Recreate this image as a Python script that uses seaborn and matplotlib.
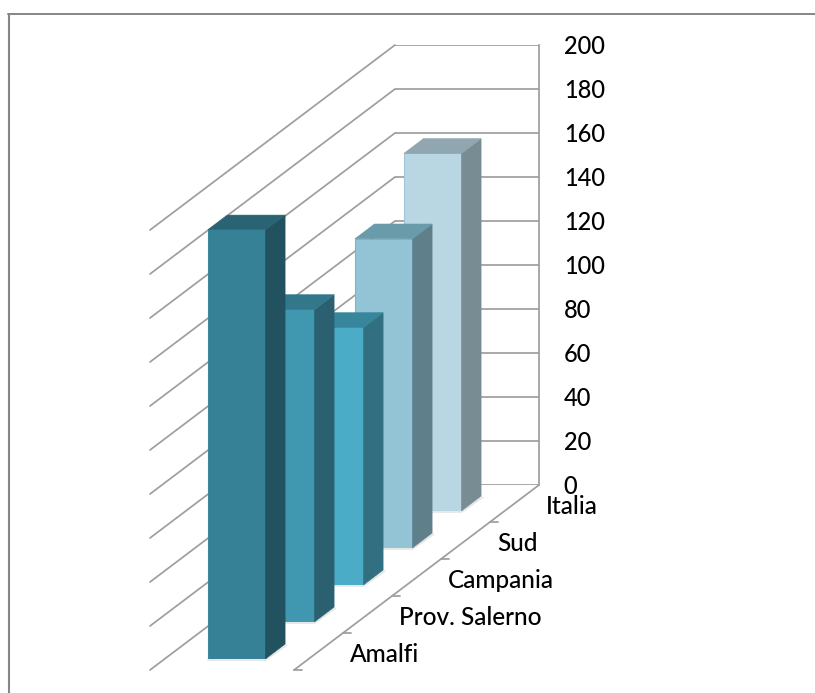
import matplotlib
matplotlib.use("Agg")
import matplotlib.pyplot as plt
from matplotlib.patches import Polygon
import pandas as pd
import seaborn as sns

# Series, listed from the front row to the back row
categories = ["Amalfi", "Prov. Salerno", "Campania", "Sud", "Italia"]
values = [195, 142, 117, 140.5, 162.5]
front_colors = ["#378196", "#3f98b0", "#4bacc8", "#93c4d6", "#b9d6e3"]
side_colors = ["#22525f", "#2a6070", "#326f80", "#5f7f8a", "#788c93"]
top_colors = ["#2a6372", "#33788a", "#38869b", "#6a9bab", "#90a6b0"]
edge_colors = ["#3b8a9f", "#46a0b8", "#55b3ce", "#7fb3c6", "#a3c4d2"]
value_ticks = list(range(0, 201, 20))

# Oblique projection, in figure pixels
FIG_W, FIG_H = 815, 693
WALL_LEFT, WALL_RIGHT = 395, 539
WALL_TOP, WALL_BOTTOM = 45, 485
DEPTH_X, DEPTH_Y = 49, 37  # shift per category row
BAR_WIDTH = 0.4
BAR_GAP = 0.3
LINE = "#9e9e9e"
LINE_W = 1.25
FONT = "Lato"
TICK_SIZE = 17
LABEL_SIZE = 17.6

sns.set_theme(style="white")
plt.rcParams["font.family"] = [FONT, "DejaVu Sans"]
plt.rcParams["font.weight"] = "medium"

fig = plt.figure(figsize=(FIG_W / 100, FIG_H / 100), dpi=100, facecolor="white")


def pixel_box(left, top, width, height):
    return [left / FIG_W, 1 - (top + height) / FIG_H, width / FIG_W, height / FIG_H]


# Full-figure layer for the floor, the side wall and the frame
canvas = fig.add_axes([0, 0, 1, 1], zorder=0)
canvas.set_xlim(0, FIG_W)
canvas.set_ylim(FIG_H, 0)
canvas.axis("off")
canvas.plot([8.5, 8.5], [FIG_H, 14], color="#868686", lw=1.5)
canvas.plot([8, FIG_W], [14, 14], color="#868686", lw=1.4)

n_rows = len(categories)
span_x, span_y = DEPTH_X * n_rows, DEPTH_Y * n_rows
px_per_unit = (WALL_BOTTOM - WALL_TOP) / max(value_ticks)

# Side wall gridlines running from the back wall to the front
for v in value_ticks:
    y = WALL_BOTTOM - v * px_per_unit
    canvas.plot([WALL_LEFT, WALL_LEFT - span_x], [y, y + span_y], color=LINE, lw=LINE_W)

# Front edge of the floor with its row ticks
canvas.plot([WALL_RIGHT, WALL_RIGHT - span_x], [WALL_BOTTOM, WALL_BOTTOM + span_y],
            color=LINE, lw=LINE_W)
for i in range(n_rows):
    tx = WALL_RIGHT - span_x + DEPTH_X * i
    ty = WALL_BOTTOM + span_y - DEPTH_Y * i
    canvas.plot([tx, tx + 8], [ty, ty], color=LINE, lw=LINE_W)

# Back wall carrying the value axis
wall = fig.add_axes(pixel_box(WALL_LEFT, WALL_TOP, WALL_RIGHT - WALL_LEFT, WALL_BOTTOM - WALL_TOP),
                    zorder=1)
wall.patch.set_alpha(0)
wall.set_ylim(0, max(value_ticks))
wall.set_xticks([])
wall.set_yticks(value_ticks)
wall.yaxis.tick_right()
wall.tick_params(axis="y", right=True, length=5.8, width=LINE_W, color=LINE, pad=12,
                 labelsize=TICK_SIZE, labelcolor="black")
wall.grid(axis="y", color=LINE, lw=LINE_W)
sns.despine(ax=wall, left=True, top=True, bottom=True, right=False)
wall.spines["right"].set_color(LINE)
wall.spines["right"].set_linewidth(LINE_W)

# Bars are painted from the back row to the front row so nearer ones overlap
for i in reversed(range(n_rows)):
    left = WALL_LEFT - span_x + DEPTH_X * (i + BAR_GAP)
    base = WALL_BOTTOM + span_y - DEPTH_Y * (i + BAR_GAP)
    width = WALL_RIGHT - WALL_LEFT
    height = WALL_BOTTOM - WALL_TOP
    ax = fig.add_axes(pixel_box(left, base - height, width, height), zorder=2 + n_rows - i)
    ax.patch.set_alpha(0)
    row = pd.DataFrame({"area": [categories[i]], "value": [values[i]]})
    sns.barplot(data=row, x="area", y="value", color=front_colors[i], saturation=1,
                width=BAR_WIDTH, edgecolor=edge_colors[i], linewidth=0.8, ax=ax)
    ax.set_xlim(-0.5, 0.5)
    ax.set_ylim(0, max(value_ticks))
    ax.axis("off")

    bar = ax.patches[0]
    x0, x1 = bar.get_x(), bar.get_x() + bar.get_width()
    h = bar.get_height()
    dx = BAR_WIDTH * DEPTH_X / width
    dy = BAR_WIDTH * DEPTH_Y / px_per_unit

    # Soft contact shadow along the foot of the bar
    ax.plot([x0, x1, x1 + dx + 0.01], [-0.5, -0.5, dy - 0.5], color="#e6e6e6", lw=1.3,
            clip_on=False, zorder=1)
    # Right side and top faces of the box
    ax.add_patch(Polygon([(x1, 0), (x1 + dx, dy), (x1 + dx, h + dy), (x1, h)],
                         facecolor=side_colors[i], edgecolor=side_colors[i], lw=0.4,
                         clip_on=False, zorder=3))
    ax.add_patch(Polygon([(x0, h), (x1, h), (x1 + dx, h + dy), (x0 + dx, h + dy)],
                         facecolor=top_colors[i], edgecolor=top_colors[i], lw=0.4,
                         clip_on=False, zorder=3))

# Row labels sit along the front edge of the floor
labels = fig.add_axes([0, 0, 1, 1], zorder=20)
labels.set_xlim(0, FIG_W)
labels.set_ylim(FIG_H, 0)
labels.axis("off")
for i, name in enumerate(categories):
    labels.text(WALL_RIGHT - span_x + 56 + DEPTH_X * i, WALL_BOTTOM + span_y - 15.5 - DEPTH_Y * i,
                name, ha="left", va="center", fontsize=LABEL_SIZE, color="black")

fig.savefig("out.png", dpi=100, facecolor="white")
